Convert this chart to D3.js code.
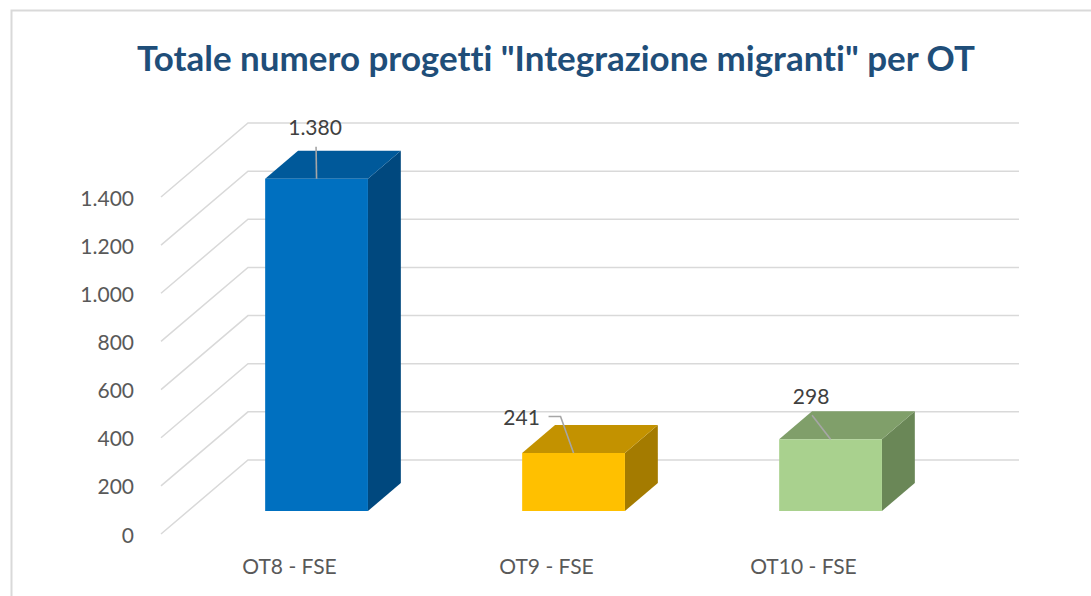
<!DOCTYPE html>
<html>
<head>
<meta charset="utf-8">
<script src="https://cdn.jsdelivr.net/npm/d3@7"></script>
<style>
  html, body { margin: 0; padding: 0; background: #ffffff; }
  svg { display: block; }
  text { font-variant-ligatures: none; font-feature-settings: "liga" 0, "clig" 0; }
</style>
</head>
<body>
<svg id="chart" width="1091" height="596"></svg>
<script>
// ---- data ----
const categories = ["OT8 - FSE", "OT9 - FSE", "OT10 - FSE"];
const values = [1380, 241, 298];
const valueLabels = ["1.380", "241", "298"];
const tickValues = [0, 200, 400, 600, 800, 1000, 1200, 1400];
const tickLabels = ["0", "200", "400", "600", "800", "1.000", "1.200", "1.400"];
const title = "Totale numero progetti \"Integrazione migranti\" per OT";

// ---- styles / layout ----
const frontColors = ["#0070C0", "#FFC000", "#A9D18E"];
const topColors   = ["#00599A", "#C39200", "#809F6A"];
const sideColors  = ["#00487E", "#A47B00", "#6A8757"];
const gridColor = "#d9d9d9";
const textColor = "#595959";
const font = "Lato, 'Open Sans', sans-serif";

const svg = d3.select("#chart");
const W = 1091, H = 596;

// frame
svg.append("rect").attr("x", 11.5).attr("y", 10.5).attr("width", W + 20).attr("height", H + 20)
  .attr("fill", "#fff").attr("stroke", "#d9d9d9").attr("stroke-width", 2);

// 3D projection: back wall + depth vector (back -> front)
const depthDX = -87, depthDY = 74;
const x = d3.scaleBand().domain(categories).range([248, 1019]).paddingInner(0.6).paddingOuter(0.3);
const y = d3.scaleLinear().domain([0, 1400]).range([460, 123]);
const tBack = 0.311, tFront = 0.689; // bar depth fractions
const proj = (px, v, t) => [px + depthDX * t, y(v) + depthDY * t];

// gridlines: back wall horizontal + left wall diagonal
const grid = svg.append("g").attr("stroke", gridColor).attr("stroke-width", 1.5).attr("fill", "none");
tickValues.forEach(v => {
  const [x0, y0] = proj(248, v, 0);
  const [x1, y1] = proj(248, v, 1);
  grid.append("path").attr("d", `M${x1},${y1}L${x0},${y0}L${1019},${y0}`);
});

// tick labels
svg.append("g").selectAll("text").data(tickValues).join("text")
  .attr("x", d => proj(248, d, 1)[0] - 27)
  .attr("y", d => proj(248, d, 1)[1])
  .attr("text-anchor", "end").attr("dominant-baseline", "central")
  .attr("font-family", font).attr("font-size", 21).attr("fill", textColor)
  .text((d, i) => tickLabels[i]);

// bars
const bars = svg.append("g");
categories.forEach((c, i) => {
  const v = values[i];
  const xl = x(c), xr = x(c) + x.bandwidth();
  const ftl = proj(xl, v, tFront), ftr = proj(xr, v, tFront);
  const fbl = proj(xl, 0, tFront), fbr = proj(xr, 0, tFront);
  const btl = proj(xl, v, tBack), btr = proj(xr, v, tBack);
  const bbr = proj(xr, 0, tBack);
  const poly = pts => "M" + pts.map(p => p.join(",")).join("L") + "Z";
  bars.append("path").attr("d", poly([ftr, btr, bbr, fbr])).attr("fill", sideColors[i]);
  bars.append("path").attr("d", poly([ftl, ftr, btr, btl])).attr("fill", topColors[i]);
  bars.append("path").attr("d", poly([ftl, ftr, fbr, fbl])).attr("fill", frontColors[i]);
});

// data labels with leader lines (offsets relative to top-front edge centre)
const labelOffsets = [[-1.5, -52], [-52, -36.5], [-19.5, -44]];
const leaderStyles = ["v", "h", "v"];
const lbl = svg.append("g");
categories.forEach((c, i) => {
  const cx = x(c) + x.bandwidth() / 2;
  const [ax, ay] = proj(cx, values[i], tFront);
  const lx = ax + labelOffsets[i][0], ly = ay + labelOffsets[i][1];
  let d;
  if (leaderStyles[i] === "v") d = `M${lx + 1},${ly + 20}L${ax},${ay}`;
  else d = `M${lx + 27},${ly}L${lx + 39},${ly}L${ax},${ay}`;
  lbl.append("path").attr("d", d).attr("stroke", "#a6a6a6").attr("stroke-width", 1.6).attr("fill", "none");
  lbl.append("text").attr("x", lx).attr("y", ly)
    .attr("text-anchor", "middle").attr("dominant-baseline", "central")
    .attr("font-family", font).attr("font-size", 21).attr("fill", "#404040")
    .text(valueLabels[i]);
});

// category labels
svg.append("g").selectAll("text").data(categories).join("text")
  .attr("x", d => proj(x(d) + x.bandwidth() / 2, 0, 1)[0])
  .attr("y", 565)
  .attr("text-anchor", "middle").attr("dominant-baseline", "central")
  .attr("font-family", font).attr("font-size", 21).attr("fill", textColor)
  .text(d => d);

// title, fitted to width
const t = svg.append("text").attr("x", 556).attr("y", 71)
  .attr("text-anchor", "middle").attr("font-family", font).attr("font-weight", "bold")
  .attr("font-size", 36).attr("fill", "#1F4E79").text(title);
const tw = t.node().getComputedTextLength();
t.attr("font-size", 36 * 838 / tw);
</script>
</body>
</html>
